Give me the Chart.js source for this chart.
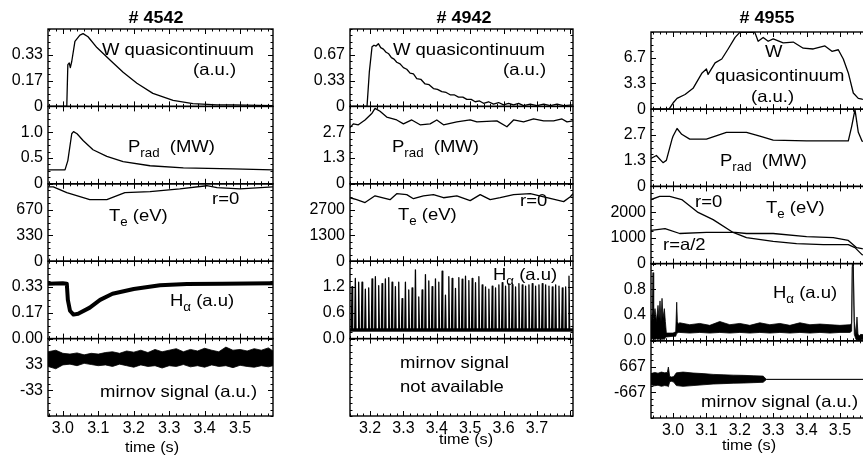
<!DOCTYPE html>
<html><head><meta charset="utf-8">
<script src="https://cdn.jsdelivr.net/npm/chart.js@4.4.1/dist/chart.umd.min.js"></script>
<style>
html,body{margin:0;padding:0;background:#fff;width:863px;height:460px;overflow:hidden;position:relative}
canvas{position:absolute}
</style></head><body>
<script>
// ================= DATA =================
const shotTitles = ['# 4542', '# 4942', '# 4955'];
const xTicksA = [3.0, 3.1, 3.2, 3.3, 3.4, 3.5];
const xLabelsA = ['3.0', '3.1', '3.2', '3.3', '3.4', '3.5'];
const xTicksB = [3.2, 3.3, 3.4, 3.5, 3.6, 3.7];
const xLabelsB = ['3.2', '3.3', '3.4', '3.5', '3.6', '3.7'];

// ---- shot 4542 ----
const w4542T = [2.958,3.011,3.014,3.018,3.021,3.025,3.034,3.048,3.057,3.071,3.096,3.133,3.170,3.209,3.254,3.311,3.367,3.435,3.480,3.593];
const w4542V = [0,0,0.27,0.28,0.25,0.29,0.42,0.46,0.47,0.45,0.38,0.30,0.22,0.15,0.084,0.039,0.018,0.010,0.010,0.005];
const prad4542T = [2.958,3.006,3.014,3.025,3.030,3.040,3.057,3.085,3.124,3.170,3.246,3.340,3.480,3.593];
const prad4542V = [0.27,0.27,0.45,0.97,1.01,0.97,0.84,0.66,0.53,0.43,0.35,0.31,0.29,0.27];
const te4542T = [2.958,2.973,3.011,3.076,3.124,3.175,3.246,3.330,3.406,3.435,3.500,3.593];
const te4542V = [960,960,885,795,795,885,900,935,975,950,935,960];
const ha4542T = [2.958,3.000,3.011,3.014,3.020,3.030,3.043,3.076,3.105,3.140,3.200,3.274,3.350,3.450,3.593];
const ha4542V = [0.355,0.357,0.355,0.25,0.18,0.155,0.16,0.20,0.25,0.29,0.32,0.345,0.352,0.355,0.357];
const mir4542T = [2.958,2.980,3.000,3.020,3.040,3.060,3.080,3.100,3.120,3.140,3.160,3.180,3.200,3.220,3.240,3.260,3.280,3.300,3.320,3.340,3.360,3.380,3.400,3.420,3.440,3.460,3.480,3.500,3.520,3.540,3.560,3.580,3.593];
const mir4542Hi = [66,70,62,60,63,58,62,60,64,66,62,68,65,70,64,72,66,70,74,66,72,68,75,70,66,78,70,72,68,74,70,76,68];
const mir4542Lo = [28,22,32,34,30,36,33,30,32,28,34,30,26,32,28,30,24,30,28,33,27,30,26,32,28,30,25,31,28,26,30,27,30];

// ---- shot 4942 ----
const w4942T = [3.140,3.191,3.198,3.206,3.212,3.218,3.225,3.232,3.240,3.248,3.256,3.264,3.272,3.280,3.290,3.300,3.310,3.320,3.330,3.340,3.352,3.365,3.377,3.390,3.402,3.415,3.428,3.440,3.452,3.465,3.478,3.490,3.503,3.515,3.528,3.540,3.555,3.570,3.585,3.600,3.615,3.630,3.645,3.660,3.680,3.700,3.720,3.740,3.760,3.780,3.808];
const w4942V = [0,0,0.45,0.77,0.79,0.78,0.81,0.76,0.74,0.70,0.68,0.63,0.61,0.57,0.55,0.50,0.48,0.43,0.42,0.36,0.35,0.29,0.28,0.23,0.22,0.19,0.18,0.15,0.15,0.12,0.12,0.09,0.09,0.06,0.07,0.04,0.06,0.03,0.05,0.02,0.04,0.02,0.04,0.01,0.03,0.01,0.03,0.01,0.03,0.01,0.02];
const prad4942T = [3.140,3.150,3.165,3.185,3.206,3.215,3.230,3.250,3.280,3.300,3.325,3.350,3.380,3.400,3.420,3.460,3.500,3.520,3.580,3.610,3.630,3.660,3.690,3.720,3.750,3.775,3.790,3.808];
const prad4942V = [2.9,3.1,3.05,3.3,3.65,3.9,3.75,3.45,3.3,3.1,3.3,3.05,3.1,3.3,3.05,3.2,3.3,3.2,3.25,2.95,3.3,3.2,3.35,3.25,3.25,3.35,3.2,3.25];
const te4942T = [3.140,3.160,3.185,3.215,3.260,3.280,3.310,3.330,3.360,3.390,3.420,3.460,3.500,3.530,3.560,3.590,3.630,3.680,3.730,3.780,3.800,3.808];
const te4942V = [3280,3180,3030,3380,3180,3490,3440,3230,3380,3440,3280,3380,3130,3440,3180,3280,3440,3490,3280,3080,3330,3490];
const ha4942SpikeT = [3.146,3.156,3.166,3.176,3.186,3.196,3.206,3.216,3.226,3.236,3.246,3.256,3.266,3.276,3.286,3.296,3.306,3.316,3.326,3.336,3.346,3.356,3.366,3.376,3.386,3.396,3.406,3.416,3.426,3.436,3.446,3.456,3.466,3.476,3.486,3.496,3.506,3.516,3.526,3.536,3.546,3.556,3.566,3.576,3.586,3.596,3.606,3.616,3.626,3.636,3.646,3.656,3.666,3.676,3.686,3.696,3.706,3.716,3.726,3.736,3.746,3.756,3.766,3.776,3.786,3.796];
const ha4942SpikeH = [1.21,1.40,1.31,1.31,1.15,1.18,1.39,1.44,1.23,1.28,1.39,1.42,1.31,1.21,1.31,0.93,1.31,1.13,1.18,1.60,0.97,1.13,1.49,1.34,1.21,1.39,1.31,1.57,1.01,1.44,1.40,1.17,1.42,1.38,1.45,1.35,1.40,1.30,1.44,1.25,1.20,1.15,1.22,1.18,1.25,1.30,1.22,1.28,1.25,1.20,1.28,1.25,1.22,1.25,1.28,1.22,1.25,1.28,1.25,1.22,1.20,1.25,1.22,1.18,1.20,1.45];
const ha4942Base = 0.2;
const ha4942BandT = [3.140, 3.808];
const ha4942BandHi = [0.23, 0.23];
const ha4942BandLo = [0.17, 0.17];

// ---- shot 4955 ----
const w4955T = [2.934,2.988,3.000,3.012,3.036,3.060,3.087,3.100,3.105,3.126,3.146,3.165,3.186,3.200,3.245,3.255,3.270,3.285,3.300,3.330,3.360,3.390,3.420,3.455,3.476,3.495,3.510,3.525,3.540,3.555,3.566,3.590];
const w4955V = [0,0,0.8,1.4,1.9,2.7,4.7,5.2,4.5,6.0,6.5,7.8,9.3,9.95,9.95,8.8,9.3,8.8,9.1,8.6,8.7,7.9,7.8,8.2,7.5,7.7,6.5,4.7,2.1,1.4,1.3,1.2];
const prad4955T = [2.934,2.950,2.970,2.980,2.997,3.000,3.012,3.026,3.050,3.100,3.160,3.220,3.260,3.300,3.400,3.525,3.535,3.545,3.555,3.566,3.590];
const prad4955V = [1.45,1.6,1.23,1.35,2.45,2.6,3.0,2.7,2.45,2.45,2.8,2.8,2.6,2.4,2.36,2.36,3.1,3.98,2.8,2.35,2.3];
const te0_4955T = [2.934,2.960,2.990,3.026,3.075,3.120,3.180,3.220,3.300,3.370,3.450,3.525,3.545,3.566,3.590];
const te0_4955V = [2490,2610,2610,2490,1990,1710,1210,1010,860,780,740,740,620,350,300];
const teH_4955T = [2.934,2.976,3.020,3.100,3.186,3.220,3.300,3.400,3.480,3.525,3.550,3.566,3.590];
const teH_4955V = [1290,1360,1170,1210,1210,1170,1170,1050,1010,900,620,580,560];
const ha4955T = [2.934,2.938,2.940,2.942,2.946,2.950,2.955,2.958,2.961,2.964,2.967,2.970,2.974,2.977,2.980,3.000,3.008,3.011,3.013,3.016,3.020,3.050,3.080,3.110,3.140,3.170,3.200,3.230,3.260,3.290,3.320,3.350,3.380,3.410,3.440,3.470,3.500,3.530,3.535,3.537,3.540,3.543,3.548,3.551,3.554,3.558,3.562,3.590];
const ha4955Hi = [0.30,0.45,1.06,0.35,0.50,0.30,0.55,0.35,0.62,0.30,0.66,0.35,0.50,0.30,0.12,0.12,0.14,0.60,0.30,0.26,0.28,0.25,0.27,0.24,0.30,0.25,0.27,0.24,0.28,0.25,0.27,0.24,0.28,0.25,0.26,0.25,0.24,0.25,0.27,1.20,1.20,0.30,0.10,0.37,0.10,0.08,0.10,0.08];
const ha4955Lo = [0.02,0.03,0.02,0.03,0.02,0.03,0.02,0.03,0.02,0.03,0.02,0.03,0.02,0.05,0.06,0.07,0.07,0.12,0.12,0.13,0.13,0.12,0.13,0.12,0.13,0.12,0.13,0.12,0.13,0.12,0.13,0.12,0.13,0.12,0.13,0.12,0.13,0.13,0.15,1.15,1.15,0.10,0.02,0.02,0.00,0.00,0.02,0.02];
const mir4955T = [2.934,2.945,2.955,2.965,2.975,2.983,2.986,2.990,2.996,3.002,3.010,3.030,3.060,3.090,3.120,3.150,3.180,3.210,3.240,3.270,3.280,3.590];
const mir4955Hi = [300,360,320,380,340,360,640,150,120,150,340,380,330,300,260,240,220,210,190,170,0,0];
const mir4955Lo = [-280,-330,-300,-360,-320,-340,-380,-120,-100,-140,-320,-360,-320,-280,-240,-220,-200,-190,-170,-150,0,0];

// ---- y tick values / labels ----
const wTicksA = [0, 1/6, 1/3];        const wLabelsA = ['0', '0.17', '0.33'];
const pradTicksA = [0, 0.5, 1.0];     const pradLabelsA = ['0', '0.5', '1.0'];
const teTicksA = [0, 1000/3, 2000/3]; const teLabelsA = ['0', '330', '670'];
const haTicksA = [0, 1/6, 1/3];       const haLabelsA = ['0.00', '0.17', '0.33'];
const mirTicksA = [-100/3, 100/3];    const mirLabelsA = ['-33', '33'];
const wTicksB = [0, 1/3, 2/3];        const wLabelsB = ['0', '0.33', '0.67'];
const pradTicksB = [0, 4/3, 8/3];     const pradLabelsB = ['0', '1.3', '2.7'];
const teTicksB = [0, 4000/3, 8000/3]; const teLabelsB = ['0', '1300', '2700'];
const haTicksB = [0, 0.6, 1.2];       const haLabelsB = ['0.0', '0.6', '1.2'];
const wTicksC = [0, 10/3, 20/3];      const wLabelsC = ['0', '3.3', '6.7'];
const pradTicksC = [0, 4/3, 8/3];     const pradLabelsC = ['0', '1.3', '2.7'];
const teTicksC = [0, 1000, 2000];     const teLabelsC = ['0', '1000', '2000'];
const haTicksC = [0, 0.4, 0.8];       const haLabelsC = ['0.0', '0.4', '0.8'];
const mirTicksC = [-2000/3, 2000/3];  const mirLabelsC = ['-667', '667'];

// ================= RENDERING =================
const FF = '"Liberation Sans", Arial, Helvetica, sans-serif';
const SX = 1.12;   // horizontal stretch of annotation text
const YW = 48;     // width reserved for y tick labels
const MARGIN = 18; // canvas margin above/below each panel
Chart.defaults.font.family = FF;
Chart.defaults.color = '#000';

const sub = (t) => ({t, sub: true});
const txt = (t) => ({t});

const columns = [
  { title: shotTitles[0], left: 48, right: 273, top: 29, bottom: 416, xMin: 2.958, xMax: 3.593,
    xTicks: xTicksA, xLabels: xLabelsA, titleX: 156, titleY: 23, timeX: 152, timeY: 452,
    panels: [
      { yMin: 0, yMax: 0.5, yTicks: wTicksA, yLabels: wLabelsA,
        series: [{type: 'line', t: w4542T, v: w4542V}],
        notes: [{segs: [txt('W quasicontinuum')], x: 102, y: 55}, {segs: [txt('(a.u.)')], x: 193, y: 75}] },
      { yMin: 0, yMax: 1.5, yTicks: pradTicksA, yLabels: pradLabelsA,
        series: [{type: 'line', t: prad4542T, v: prad4542V}],
        notes: [{segs: [txt('P'), sub('rad'), txt('  (MW)')], x: 128, y: 152}] },
      { yMin: 0, yMax: 1000, yTicks: teTicksA, yLabels: teLabelsA,
        series: [{type: 'line', t: te4542T, v: te4542V}],
        notes: [{segs: [txt('T'), sub('e'), txt(' (eV)')], x: 109, y: 221}, {segs: [txt('r=0')], x: 212, y: 204}] },
      { yMin: 0, yMax: 0.5, yTicks: haTicksA, yLabels: haLabelsA,
        series: [{type: 'line', t: ha4542T, v: ha4542V, w: 4}],
        notes: [{segs: [txt('H'), sub('α'), txt(' (a.u)')], x: 170, y: 306}] },
      { yMin: -100, yMax: 100, yTicks: mirTicksA, yLabels: mirLabelsA,
        series: [{type: 'band', t: mir4542T, hi: mir4542Hi, lo: mir4542Lo}],
        notes: [{segs: [txt('mirnov signal (a.u.)')], x: 100, y: 397}] }
    ] },
  { title: shotTitles[1], left: 350, right: 573, top: 29, bottom: 416, xMin: 3.14, xMax: 3.808,
    xTicks: xTicksB, xLabels: xLabelsB, titleX: 464, titleY: 23, timeX: 466, timeY: 444,
    panels: [
      { yMin: 0, yMax: 1, yTicks: wTicksB, yLabels: wLabelsB,
        series: [{type: 'line', t: w4942T, v: w4942V}],
        notes: [{segs: [txt('W quasicontinuum')], x: 393, y: 55}, {segs: [txt('(a.u.)')], x: 503, y: 75}] },
      { yMin: 0, yMax: 4, yTicks: pradTicksB, yLabels: pradLabelsB,
        series: [{type: 'line', t: prad4942T, v: prad4942V}],
        notes: [{segs: [txt('P'), sub('rad'), txt('  (MW)')], x: 392, y: 152}] },
      { yMin: 0, yMax: 4000, yTicks: teTicksB, yLabels: teLabelsB,
        series: [{type: 'line', t: te4942T, v: te4942V}],
        notes: [{segs: [txt('T'), sub('e'), txt(' (eV)')], x: 398, y: 220}, {segs: [txt('r=0')], x: 520, y: 206}] },
      { yMin: 0, yMax: 1.8, yTicks: haTicksB, yLabels: haLabelsB,
        series: [{type: 'band', t: ha4942BandT, hi: ha4942BandHi, lo: ha4942BandLo},
                 {type: 'spikes', t: ha4942SpikeT, h: ha4942SpikeH, base: ha4942Base}],
        notes: [{segs: [txt('H'), sub('α'), txt(' (a.u)')], x: 493, y: 280}] },
      { yMin: -1, yMax: 1, yTicks: [], yLabels: [],
        series: [],
        notes: [{segs: [txt('mirnov signal')], x: 400, y: 368}, {segs: [txt('not available')], x: 400, y: 392}] }
    ] },
  { title: shotTitles[2], left: 651, right: 870, top: 32, bottom: 418, xMin: 2.934, xMax: 3.590,
    xTicks: xTicksA, xLabels: xLabelsA, titleX: 767, titleY: 23, timeX: 749, timeY: 450,
    panels: [
      { yMin: 0, yMax: 10, yTicks: wTicksC, yLabels: wLabelsC,
        series: [{type: 'line', t: w4955T, v: w4955V}],
        notes: [{segs: [txt('W')], x: 765, y: 57}, {segs: [txt('quasicontinuum')], x: 715, y: 81}, {segs: [txt('(a.u.)')], x: 751, y: 102}] },
      { yMin: 0, yMax: 4, yTicks: pradTicksC, yLabels: pradLabelsC,
        series: [{type: 'line', t: prad4955T, v: prad4955V}],
        notes: [{segs: [txt('P'), sub('rad'), txt('  (MW)')], x: 720, y: 166}] },
      { yMin: 0, yMax: 3000, yTicks: teTicksC, yLabels: teLabelsC,
        series: [{type: 'line', t: te0_4955T, v: te0_4955V}, {type: 'line', t: teH_4955T, v: teH_4955V}],
        notes: [{segs: [txt('r=0')], x: 695, y: 207}, {segs: [txt('T'), sub('e'), txt(' (eV)')], x: 766, y: 213},
                {segs: [txt('r=a/2')], x: 663, y: 250}] },
      { yMin: 0, yMax: 1.2, yTicks: haTicksC, yLabels: haLabelsC,
        series: [{type: 'band', t: ha4955T, hi: ha4955Hi, lo: ha4955Lo}],
        notes: [{segs: [txt('H'), sub('α'), txt(' (a.u)')], x: 773, y: 298}] },
      { yMin: -2000, yMax: 2000, yTicks: mirTicksC, yLabels: mirLabelsC,
        series: [{type: 'band', t: mir4955T, hi: mir4955Hi, lo: mir4955Lo}],
        notes: [{segs: [txt('mirnov signal (a.u.)')], x: 701, y: 407}] }
    ] }
];

function pts(t, v) { return t.map((x, i) => ({x, y: v[i]})); }
function buildDatasets(series) {
  const out = [];
  series.forEach(s => {
    const base = {borderColor: '#000', pointRadius: 0, pointHoverRadius: 0, pointBorderWidth: 0,
                  tension: 0, fill: false, borderJoinStyle: 'round'};
    if (s.type === 'line') {
      out.push(Object.assign({}, base, {data: pts(s.t, s.v), borderWidth: s.w || 1.3}));
    } else if (s.type === 'band') {
      out.push(Object.assign({}, base, {data: pts(s.t, s.hi), borderWidth: 0.8}));
      out.push(Object.assign({}, base, {data: pts(s.t, s.lo), borderWidth: 0.8, fill: '-1', backgroundColor: '#000'}));
    } else if (s.type === 'spikes') {
      const d = [];
      s.t.forEach((x, i) => { d.push({x: x - 0.002, y: s.base}, {x, y: s.h[i]}, {x: x + 0.002, y: s.base}); });
      out.push(Object.assign({}, base, {data: d, borderWidth: 1.3}));
    }
  });
  return out;
}

function drawRich(ctx, note) {
  const size = note.size || 16.5;
  ctx.save();
  ctx.translate(note.x, note.y);
  ctx.scale(SX, 1);
  let total = 0;
  const parts = note.segs.map(s => {
    const fs = s.sub ? size * 0.72 : size;
    const f = (note.bold ? 'bold ' : '') + fs + 'px ' + FF;
    ctx.font = f;
    const w = ctx.measureText(s.t).width;
    total += w;
    return {t: s.t, f, w, dy: s.sub ? size * 0.3 : 0};
  });
  let cx = note.align === 'center' ? -total / 2 : 0;
  ctx.fillStyle = '#000';
  ctx.textAlign = 'left';
  ctx.textBaseline = 'alphabetic';
  parts.forEach(p => { ctx.font = p.f; ctx.fillText(p.t, cx, p.dy); cx += p.w; });
  ctx.restore();
}

const framePlugin = {
  id: 'panelFrame',
  afterDraw(chart, args, opts) {
    const {ctx, chartArea: a} = chart;
    const xs = chart.scales.x, ys = chart.scales.y;
    ctx.save();
    ctx.strokeStyle = '#000';
    ctx.lineWidth = 1.4;
    ctx.strokeRect(a.left, a.top, a.right - a.left, a.bottom - a.top);
    ctx.lineWidth = 1;
    ctx.beginPath();
    for (let k = Math.ceil(xs.min / 0.02 - 1e-6); k * 0.02 <= xs.max + 1e-9; k++) {
      const v = k * 0.02;
      const major = Math.abs(v * 10 - Math.round(v * 10)) < 1e-6;
      const L = major ? 5 : 2.5;
      const px = Math.round(xs.getPixelForValue(v)) + 0.5;
      ctx.moveTo(px, a.top); ctx.lineTo(px, a.top + L);
      ctx.moveTo(px, a.bottom); ctx.lineTo(px, a.bottom - L);
    }
    const yt = opts.yTicks;
    const step = yt.length >= 2 ? (yt[1] - yt[0]) / 4 : (ys.max - ys.min) / 12;
    const b0 = yt.length ? yt[0] : ys.min;
    for (let k = Math.ceil((ys.min - b0) / step - 1e-6); b0 + k * step <= ys.max + 1e-9; k++) {
      const v = b0 + k * step;
      const major = yt.some(m => Math.abs(m - v) < step * 1e-3);
      const L = major ? 5 : 2.5;
      const py = Math.round(ys.getPixelForValue(v)) + 0.5;
      ctx.moveTo(a.left, py); ctx.lineTo(a.left + L, py);
      ctx.moveTo(a.right, py); ctx.lineTo(a.right - L, py);
    }
    ctx.stroke();
    ctx.restore();
    (opts.notes || []).forEach(n => drawRich(ctx, Object.assign({}, n, {x: n.x - opts.ox, y: n.y - opts.oy})));
  }
};

function makePanel(col, pi) {
  const p = col.panels[pi], n = col.panels.length;
  const ph = (col.bottom - col.top) / n;
  const pTop = col.top + pi * ph, pBot = pTop + ph;
  const isTop = pi === 0, isBot = pi === n - 1;
  const cLeft = col.left - YW;
  const cTop = isTop ? 0 : Math.floor(pTop) - MARGIN;
  const cBot = isBot ? 460 : Math.ceil(pBot) + MARGIN;
  const plotW = col.right - col.left;
  const cW = Math.ceil(YW + plotW + 4), cH = cBot - cTop;
  const cv = document.createElement('canvas');
  cv.width = cW; cv.height = cH;
  cv.style.left = cLeft + 'px'; cv.style.top = cTop + 'px';
  document.body.appendChild(cv);
  const notes = p.notes.slice();
  if (isTop) notes.push({segs: [txt(col.title)], x: col.titleX, y: col.titleY, bold: true, size: 16, align: 'center'});
  if (isBot) notes.push({segs: [txt('time (s)')], x: col.timeX, y: col.timeY, size: 14.5, align: 'center'});
  const xAxisH = cBot - pBot;
  new Chart(cv, {
    type: 'line',
    data: {datasets: buildDatasets(p.series)},
    options: {
      responsive: false, animation: false, devicePixelRatio: 1,
      events: [],
      layout: {autoPadding: false,
               padding: {left: 0, right: cW - YW - plotW, top: pTop - cTop, bottom: isBot ? 0 : cBot - pBot}},
      plugins: {
        legend: {display: false}, tooltip: {enabled: false}, title: {display: false},
        panelFrame: {ox: cLeft, oy: cTop, yTicks: p.yTicks, notes}
      },
      scales: {
        x: {
          type: 'linear', min: col.xMin, max: col.xMax, display: isBot,
          grid: {display: false, drawTicks: false}, border: {display: false},
          ticks: {padding: 3, font: {size: 16}, maxRotation: 0, autoSkip: false,
                  callback: (v, i) => col.xLabels[i]},
          afterBuildTicks: s => { s.ticks = col.xTicks.map(v => ({value: v})); },
          afterFit: s => { if (isBot) s.height = xAxisH; else s.height = 0; }
        },
        y: {
          type: 'linear', min: p.yMin, max: p.yMax,
          grid: {display: false, drawTicks: false}, border: {display: false},
          ticks: {padding: 5, font: {size: 16}, autoSkip: false, display: p.yLabels.length > 0,
                  callback: (v, i) => p.yLabels[i]},
          afterBuildTicks: s => { s.ticks = p.yTicks.map(v => ({value: v})); },
          afterFit: s => { s.width = YW; }
        }
      }
    },
    plugins: [framePlugin]
  });
}

columns.forEach(col => col.panels.forEach((p, i) => makePanel(col, i)));
</script>
</body></html>
